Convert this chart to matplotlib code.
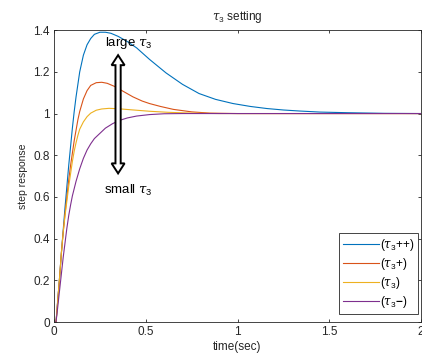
import matplotlib
matplotlib.use("Agg")
import matplotlib.pyplot as plt
from matplotlib.patches import Polygon
from matplotlib.ticker import FormatStrFormatter

plt.rcParams['font.family'] = ['Liberation Sans', 'DejaVu Sans']
plt.rcParams['mathtext.fontset'] = 'custom'
plt.rcParams['mathtext.it'] = 'DejaVu Serif:italic'
plt.rcParams['mathtext.rm'] = 'Liberation Sans'
plt.rcParams['mathtext.sf'] = 'Liberation Sans'
plt.rcParams['mathtext.bf'] = 'Liberation Sans:bold'

# ---- data ----
t_pp = [0, 0.011, 0.02, 0.03, 0.04, 0.05, 0.06, 0.07, 0.08, 0.09, 0.10, 0.11, 0.12, 0.13, 0.14,
        0.16, 0.18, 0.20, 0.22, 0.25, 0.28, 0.31, 0.35, 0.40, 0.45, 0.52, 0.61, 0.70, 0.79,
        0.88, 0.975, 1.07, 1.16, 1.25, 1.34, 1.45, 1.6, 1.8, 2.0]
y_pp = [0, 0, 0.10, 0.21, 0.33, 0.44, 0.55, 0.65, 0.75, 0.84, 0.93, 1.01, 1.08, 1.14, 1.20,
        1.28, 1.33, 1.36, 1.38, 1.39, 1.39, 1.385, 1.37, 1.345, 1.315, 1.26, 1.195, 1.14, 1.096,
        1.068, 1.048, 1.034, 1.024, 1.017, 1.012, 1.007, 1.004, 1.001, 1.0]

t_p = [0, 0.011, 0.02, 0.03, 0.04, 0.05, 0.06, 0.07, 0.08, 0.09, 0.10, 0.11, 0.12, 0.13, 0.14,
       0.16, 0.18, 0.20, 0.23, 0.26, 0.29, 0.33, 0.38, 0.43, 0.48, 0.52, 0.58, 0.65, 0.75,
       0.85, 1.0, 2.0]
y_p = [0, 0, 0.10, 0.21, 0.33, 0.43, 0.52, 0.60, 0.68, 0.75, 0.81, 0.87, 0.92, 0.97, 1.01,
       1.07, 1.11, 1.135, 1.148, 1.15, 1.145, 1.13, 1.105, 1.08, 1.06, 1.048, 1.034, 1.02, 1.008,
       1.002, 1.0, 1.0]

t_0 = [0, 0.011, 0.02, 0.03, 0.04, 0.05, 0.06, 0.07, 0.08, 0.09, 0.10, 0.11, 0.12, 0.13, 0.14,
       0.16, 0.18, 0.20, 0.23, 0.26, 0.30, 0.35, 0.42, 0.52, 0.62, 0.75, 0.9, 2.0]
y_0 = [0, 0, 0.10, 0.21, 0.33, 0.43, 0.51, 0.58, 0.65, 0.71, 0.77, 0.82, 0.86, 0.895, 0.925,
       0.96, 0.985, 1.002, 1.016, 1.022, 1.025, 1.023, 1.018, 1.011, 1.006, 1.002, 1.0, 1.0]

t_m = [0, 0.011, 0.02, 0.03, 0.04, 0.05, 0.06, 0.07, 0.08, 0.09, 0.10, 0.11, 0.12, 0.14, 0.16,
       0.18, 0.20, 0.22, 0.25, 0.28, 0.32, 0.36, 0.40, 0.45, 0.52, 0.6, 0.7, 2.0]
y_m = [0, 0, 0.07, 0.15, 0.23, 0.31, 0.38, 0.45, 0.51, 0.56, 0.605, 0.64, 0.675, 0.735, 0.785,
       0.825, 0.855, 0.88, 0.905, 0.93, 0.952, 0.968, 0.979, 0.988, 0.995, 0.999, 1.0, 1.0]

labels = [r'($\tau_{3}$++)', r'($\tau_{3}$+)', r'($\tau_{3}$)', r'($\tau_{3}$$\mathbf{-}$)']
colors = ['#0072BD', '#D95319', '#EDB120', '#7E2F8E']
xticks = [0, 0.5, 1, 1.5, 2]
yticks = [0, 0.2, 0.4, 0.6, 0.8, 1.0, 1.2, 1.4]

# arrow annotation (data coords)
arrow_x = 0.349
arrow_top = 1.28
arrow_bot = 0.713

fig = plt.figure(figsize=(4.22, 3.59), dpi=100)
ax = fig.add_axes([0.128, 0.103, 0.870, 0.813])

for (tt, yy), lab, c in zip([(t_pp, y_pp), (t_p, y_p), (t_0, y_0), (t_m, y_m)], labels, colors):
    ax.plot(tt, yy, color=c, lw=0.8, label=lab)

ax.set_xlim(0, 2)
ax.set_ylim(0, 1.4)
ax.set_xticks(xticks)
ax.set_yticks(yticks)
ax.xaxis.set_major_formatter(FormatStrFormatter('%g'))
ax.yaxis.set_major_formatter(FormatStrFormatter('%g'))
ax.tick_params(direction='in', length=2.5, width=0.6, top=True, right=True,
               labelsize=8.5, colors='#262626', pad=3)
for s in ax.spines.values():
    s.set_color('#262626')
    s.set_linewidth(0.6)

ax.set_title(r'$\tau_{3}$ setting', fontsize=8.5, color='#222222', pad=7)
ax.set_xlabel('time(sec)', fontsize=8.5, color='#262626', labelpad=2)
ax.set_ylabel('step response', fontsize=7.5, color='#262626', labelpad=4)

# hollow double-headed arrow built in pixel-scaled data units
xpx = 2.0 / (0.870 * 422)   # data units per pixel in x
ypx = 1.4 / (0.813 * 359)   # data units per pixel in y
sw, hw, hl = 2.6 * xpx, 6.5 * xpx, 10 * ypx
pts = [(arrow_x, arrow_top),
       (arrow_x + hw, arrow_top - hl),
       (arrow_x + sw, arrow_top - hl),
       (arrow_x + sw, arrow_bot + hl),
       (arrow_x + hw, arrow_bot + hl),
       (arrow_x, arrow_bot),
       (arrow_x - hw, arrow_bot + hl),
       (arrow_x - sw, arrow_bot + hl),
       (arrow_x - sw, arrow_top - hl),
       (arrow_x - hw, arrow_top - hl)]
ax.add_patch(Polygon(pts, closed=True, facecolor='white', edgecolor='black', lw=1.4, zorder=5))

ax.text(0.406, 1.337, r'large $\tau_{3}$', fontsize=9.5, ha='center', va='center', zorder=6)
ax.text(0.406, 0.633, r'small $\tau_{3}$', fontsize=9.5, ha='center', va='center', zorder=6)

leg = ax.legend(loc='upper right', bbox_to_anchor=(0.992, 0.305), borderaxespad=0,
                fontsize=8.5, handlelength=3.0, handletextpad=0.1, labelspacing=0.25,
                borderpad=0.35, fancybox=False, framealpha=1)
leg.get_frame().set_edgecolor('#262626')
leg.get_frame().set_linewidth(0.6)

fig.savefig('out.png', dpi=100)
